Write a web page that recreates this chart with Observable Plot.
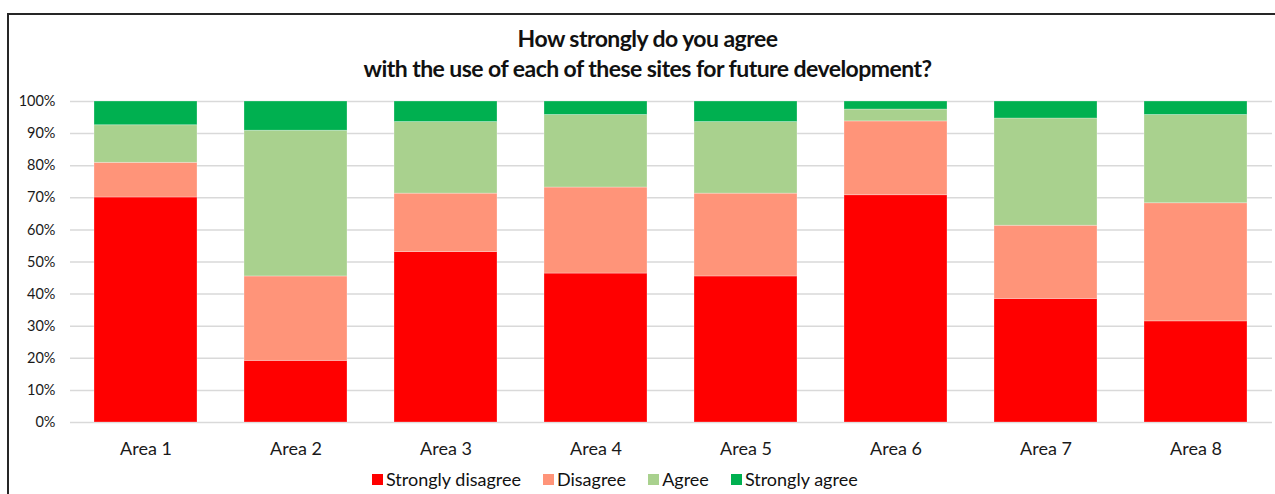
<!DOCTYPE html>
<html>
<head>
<meta charset="utf-8">
<script src="https://cdn.jsdelivr.net/npm/d3@7"></script>
<script src="https://cdn.jsdelivr.net/npm/@observablehq/plot@0.6"></script>
<style>
  html, body { margin: 0; padding: 0; background: #fff; overflow: hidden; }
  body { width: 1275px; height: 494px; position: relative; font-family: Lato, sans-serif; }
  #frame { position: absolute; left: 7px; top: 13px; width: 1300px; height: 600px; border: 2px solid #262626; box-sizing: border-box; }
  #title { position: absolute; left: 20px; top: 23px; width: 1255px; text-align: center; font-family: Lato, sans-serif; font-weight: 700; font-size: 23px; line-height: 30px; color: #111; letter-spacing: -0.55px; }
  #chart { position: absolute; left: 0; top: 88px; }
  #legend { position: absolute; left: 372px; top: 467px; display: flex; gap: 22px; font-size: 18px; line-height: 24px; color: #111; font-family: Lato, sans-serif; }
  .item { display: flex; align-items: center; gap: 3px; }
  .sw { width: 11px; height: 11px; display: inline-block; }
</style>
</head>
<body>
<div id="frame"></div>
<div id="title">How strongly do you agree<br>with the use of each of these sites for future development?</div>
<div id="chart"></div>
<div id="legend"></div>
<script>
const categories = ["Area 1", "Area 2", "Area 3", "Area 4", "Area 5", "Area 6", "Area 7", "Area 8"];
const seriesNames = ["Strongly disagree", "Disagree", "Agree", "Strongly agree"];
const seriesColors = ["#FF0000", "#FF9479", "#A9D18E", "#00B050"];
const stronglyDisagree = [70.1, 19.2, 53.1, 46.4, 45.5, 70.8, 38.5, 31.5];
const disagree = [10.8, 26.3, 18.2, 26.8, 25.8, 23.0, 22.8, 36.8];
const agree = [11.7, 45.4, 22.3, 22.6, 22.3, 3.7, 33.4, 27.5];
const stronglyAgree = [7.4, 9.1, 6.4, 4.2, 6.4, 2.5, 5.3, 4.2];
const yTicks = [0, 10, 20, 30, 40, 50, 60, 70, 80, 90, 100];

const seriesValues = [stronglyDisagree, disagree, agree, stronglyAgree];
const rows = [];
seriesNames.forEach((s, si) => {
  categories.forEach((c, ci) => rows.push({ area: c, series: s, value: seriesValues[si][ci] }));
});

const chart = Plot.plot({
  width: 1275,
  height: 406,
  marginLeft: 70,
  marginRight: 3,
  marginTop: 13,
  marginBottom: 72,
  style: { fontFamily: "Lato, sans-serif", color: "#1a1a1a", background: "transparent" },
  x: { domain: categories, paddingInner: 0.31, paddingOuter: 0.155, label: null },
  y: { domain: [0, 100], label: null },
  color: { domain: seriesNames, range: seriesColors },
  marks: [
    Plot.gridY(yTicks, { stroke: "#d9d9d9", strokeOpacity: 1, strokeWidth: 1.5 }),
    Plot.barY(rows, Plot.stackY({ x: "area", y: "value", fill: "series", stroke: "#fff", strokeOpacity: 0.35, strokeWidth: 0.8 })),
    Plot.axisY(yTicks, { tickSize: 0, tickPadding: 15, tickFormat: d => d + "%", fontSize: 14.5, label: null }),
    Plot.axisX({ tickSize: 0, tickPadding: 20, fontSize: 18, label: null })
  ]
});
document.getElementById("chart").appendChild(chart);

const legend = document.getElementById("legend");
seriesNames.forEach((s, i) => {
  const it = document.createElement("div");
  it.className = "item";
  const sw = document.createElement("span");
  sw.className = "sw";
  sw.style.background = seriesColors[i];
  const t = document.createElement("span");
  t.textContent = s;
  it.appendChild(sw);
  it.appendChild(t);
  legend.appendChild(it);
});
</script>
</body>
</html>
